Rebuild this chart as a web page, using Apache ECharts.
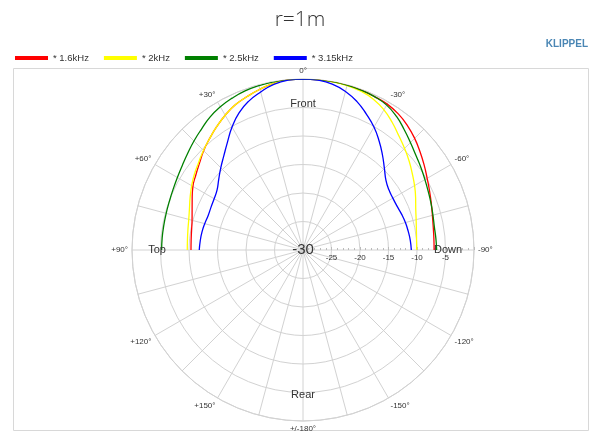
<!DOCTYPE html>
<html>
<head>
<meta charset="utf-8">
<script src="https://cdn.jsdelivr.net/npm/echarts@6/dist/echarts.min.js"></script>
<style>
html,body{margin:0;padding:0;background:#fff;}
#chart{width:600px;height:432px;}
</style>
</head>
<body>
<div id="chart"></div>
<script>
// Angles (degrees): positive = left (Top side), negative = right (Down side)
const angles = [-90,-85,-80,-75,-70,-65,-60,-55,-50,-45,-40,-35,-30,-25,-20,-15,-10,-5,0,5,10,15,20,25,30,35,40,45,50,55,60,65,70,75,80,85,90];
const seriesNames = ['* 1.6kHz', '* 2kHz', '* 2.5kHz', '* 3.15kHz'];
const level1600 = [-7.0,-6.95,-6.8,-6.5,-6.05,-5.5,-4.85,-4.05,-3.2,-2.3,-1.5,-0.85,-0.45,-0.3,-0.15,-0.05,0,0,0,0,-0.3,-0.8,-1.35,-1.9,-2.7,-3.6,-4.5,-5.35,-6.3,-7.05,-7.7,-8.55,-9.3,-9.85,-10.15,-10.3,-10.35];
const level2000 = [-10.05,-10.0,-9.8,-9.45,-8.95,-8.2,-7.4,-6.6,-5.7,-4.8,-3.85,-2.7,-1.6,-0.8,-0.35,-0.15,-0.05,0,0,-0.05,-0.3,-0.8,-1.35,-1.9,-2.7,-3.6,-4.5,-5.3,-6.1,-6.75,-7.45,-8.15,-8.8,-9.25,-9.5,-9.65,-9.7];
const level2500 = [-6.55,-6.6,-6.6,-6.4,-6.1,-5.75,-5.3,-4.75,-4.15,-3.35,-2.4,-1.4,-0.65,-0.3,-0.15,-0.05,0,0,0,0,-0.05,-0.15,-0.3,-0.6,-1.0,-1.55,-2.3,-2.95,-3.6,-4.15,-4.55,-4.85,-5.05,-5.15,-5.2,-5.2,-5.2];
const level3150 = [-11.0,-11.1,-11.25,-11.4,-11.6,-11.8,-11.8,-11.6,-11.0,-9.8,-8.3,-6.7,-5.1,-3.7,-2.3,-1.2,-0.45,-0.1,0,-0.1,-0.5,-1.3,-2.2,-3.45,-5.1,-6.9,-8.4,-9.6,-10.7,-11.6,-12.0,-12.2,-12.3,-12.15,-12.0,-11.9,-11.8];
const colors = ['#ff0000', '#ffff00', '#008000', '#0000ff'];
const radiusMin = -30, radiusMax = 0, radiusStep = 5;
const directionLabels = ['Front', 'Top', 'Down', 'Rear'];

const FONT = '"Liberation Sans", Arial, sans-serif';
const CX = 303, CY = 250, R = 171;

function toPolar(levels) {
  return levels.map((v, i) => [v, (angles[i] + 360) % 360]);
}
const allLevels = [level1600, level2000, level2500, level3150];

const chart = echarts.init(document.getElementById('chart'), null, {renderer: 'canvas'});
const grey = '#d2d2d2';

const option = {
  backgroundColor: '#fff',
  animation: false,
  title: {
    text: 'r=1m', left: 'center', top: 5,
    textStyle: {fontFamily: '"Open Sans", Lato, sans-serif', fontWeight: 300, fontSize: 21, color: '#333'}
  },
  legend: {
    left: 10, top: 48, itemWidth: 33, itemHeight: 4, itemGap: 15, icon: 'rect',
    textStyle: {fontFamily: FONT, fontSize: 9.5, color: '#333'},
    data: seriesNames
  },
  graphic: [
    {type: 'rect', shape: {x: 13.5, y: 68.5, width: 575, height: 362}, style: {fill: 'none', stroke: '#d8d8d8', lineWidth: 1}, silent: true, z: -1},
    {type: 'text', right: 12, top: 39, style: {text: 'KLIPPEL', font: 'bold 10px ' + FONT, fill: '#4a86b4'}},
    {type: 'text', x: CX, y: CY, style: {text: '-30', font: '15px ' + FONT, fill: '#333', align: 'center', verticalAlign: 'middle'}, z: 10},
    {type: 'text', x: CX, y: CY - 146, style: {text: directionLabels[0], font: '11px ' + FONT, fill: '#333', align: 'center', verticalAlign: 'middle'}, z: 10},
    {type: 'text', x: CX - 146, y: CY, style: {text: directionLabels[1], font: '11px ' + FONT, fill: '#333', align: 'center', verticalAlign: 'middle'}, z: 10},
    {type: 'text', x: CX + 145, y: CY, style: {text: directionLabels[2], font: '11px ' + FONT, fill: '#333', align: 'center', verticalAlign: 'middle'}, z: 10},
    {type: 'text', x: CX, y: CY + 145, style: {text: directionLabels[3], font: '11px ' + FONT, fill: '#333', align: 'center', verticalAlign: 'middle'}, z: 10}
  ],
  polar: [
    {center: [CX, CY], radius: R},
    {center: [CX, CY], radius: R}
  ],
  angleAxis: [
    {
      polarIndex: 0, type: 'value', min: 0, max: 360, interval: 15,
      startAngle: 90, clockwise: false,
      axisLine: {show: true, lineStyle: {color: grey, width: 1}},
      axisTick: {show: false},
      splitLine: {show: true, lineStyle: {color: grey, width: 1}},
      axisLabel: {
        margin: 4, fontFamily: FONT, fontSize: 8, color: '#333',
        formatter: function (v) {
          if (v % 30 !== 0 || v === 360) return '';
          if (v === 0) return '0°';
          if (v < 180) return '+' + v + '°';
          if (v === 180) return '+/-180°';
          return '-' + (360 - v) + '°';
        }
      }
    },
    {polarIndex: 1, type: 'value', min: 0, max: 360, startAngle: 0, show: false}
  ],
  radiusAxis: [
    {
      polarIndex: 0, type: 'value', min: radiusMin, max: radiusMax, interval: radiusStep,
      axisLine: {show: false}, axisTick: {show: false}, axisLabel: {show: false},
      splitLine: {show: true, lineStyle: {color: grey, width: 1}}
    },
    {
      polarIndex: 1, type: 'value', min: radiusMin, max: radiusMax, interval: radiusStep,
      axisLine: {show: false},
      axisTick: {show: true, length: 3, lineStyle: {color: '#bbb'}},
      minorTick: {show: true, splitNumber: 5, length: 2, lineStyle: {color: '#bbb'}},
      splitLine: {show: false},
      axisLabel: {
        margin: -4, verticalAlign: 'top', align: 'center', fontFamily: FONT, fontSize: 8, color: '#333',
        formatter: function (v) { return (v === radiusMin || v === radiusMax) ? '' : String(v); }
      }
    }
  ],
  series: seriesNames.map((name, i) => ({
    name: name, type: 'line', coordinateSystem: 'polar', polarIndex: 0,
    data: toPolar(allLevels[i]), smooth: true, symbol: 'none',
    lineStyle: {color: colors[i], width: 1.3}, itemStyle: {color: colors[i]}, z: 3
  }))
};
chart.setOption(option);
</script>
</body>
</html>
